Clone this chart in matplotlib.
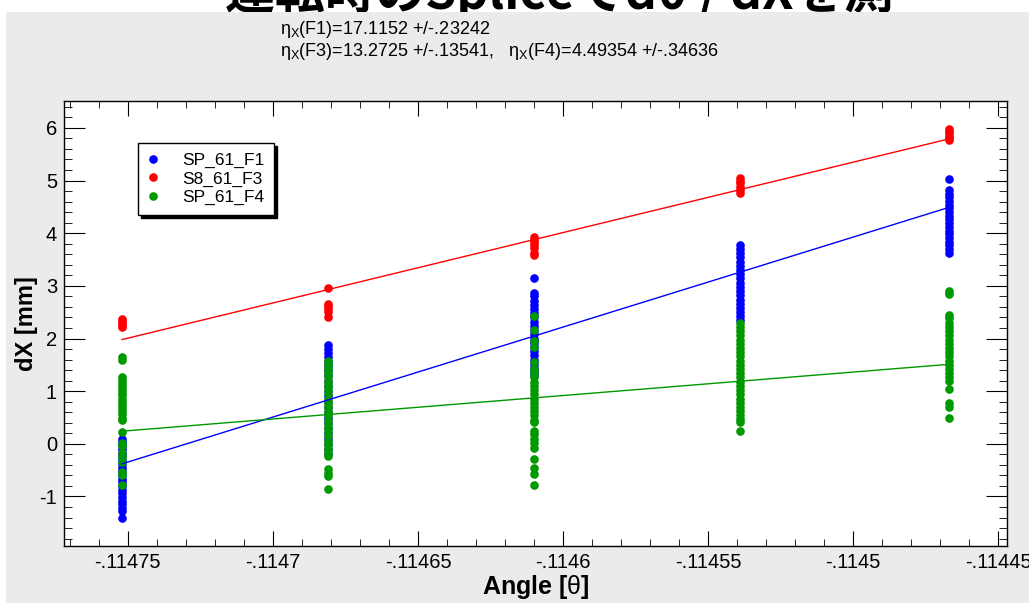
import numpy as np
import matplotlib.pyplot as plt
from matplotlib.patches import Rectangle
from matplotlib.lines import Line2D
from matplotlib.ticker import MultipleLocator, FuncFormatter

# beam angle of each run (rad)
angles = [-0.114752, -0.114681, -0.114610, -0.114539, -0.114467]

# dX [mm] per run, one list per angle
sp61_f1 = [
    [0.10, 0.04, -0.03, -0.10, -0.17, -0.24, -0.31, -0.38, -0.45, -0.52, -0.59,
     -0.66, -0.73, -0.80, -0.87, -0.94, -1.01, -1.08, -1.15, -1.22, -1.28, -1.41],
    [1.87, 1.80, 1.72, 1.64, 1.56, 1.48, 1.40, 1.30, 1.20, 1.10, 1.00, 0.90,
     0.80, 0.70, 0.60, 0.50, 0.40, 0.30, 0.20, 0.10, 0.00, -0.10, -0.20],
    [3.15, 2.87, 2.80, 2.72, 2.64, 2.56, 2.48, 2.40, 2.32, 2.24, 2.16, 2.08,
     2.00, 1.92, 1.84, 1.76, 1.68, 1.60, 1.52, 1.44, 1.36, 1.30],
    [3.77, 3.70, 3.62, 3.54, 3.46, 3.38, 3.30, 3.22, 3.14, 3.06, 2.98, 2.90,
     2.82, 2.74, 2.66, 2.58, 2.50, 2.42, 2.35],
    [5.02, 4.82, 4.75, 4.68, 4.61, 4.54, 4.47, 4.40, 4.33, 4.26, 4.19, 4.12,
     4.05, 3.98, 3.91, 3.84, 3.77, 3.70, 3.62],
]
s8_61_f3 = [
    [2.37, 2.33, 2.29, 2.25, 2.22],
    [2.95, 2.66, 2.62, 2.56, 2.50, 2.41],
    [3.92, 3.88, 3.83, 3.78, 3.72, 3.62, 3.58],
    [5.05, 5.00, 4.95, 4.88, 4.82, 4.77],
    [5.98, 5.94, 5.90, 5.85, 5.80, 5.77],
]
sp61_f4 = [
    [1.65, 1.60, 1.27, 1.22, 1.16, 1.10, 1.04, 0.98, 0.92, 0.86, 0.80, 0.74,
     0.68, 0.62, 0.56, 0.50, 0.46, 0.22, 0.02, -0.05, -0.18, -0.25, -0.34,
     -0.53, -0.60, -0.79],
    [1.58, 1.50, 1.42, 1.34, 1.26, 1.18, 1.10, 1.02, 0.94, 0.86, 0.78, 0.70,
     0.62, 0.54, 0.46, 0.38, 0.30, 0.22, 0.14, 0.06, -0.02, -0.10, -0.18,
     -0.24, -0.47, -0.55, -0.62, -0.85],
    [2.42, 2.17, 1.95, 1.83, 1.55, 1.42, 1.34, 1.26, 1.18, 1.10, 1.02, 0.94,
     0.86, 0.78, 0.70, 0.62, 0.54, 0.46, 0.42, 0.25, 0.18, 0.10, 0.02, -0.08,
     -0.28, -0.45, -0.57, -0.79],
    [2.30, 2.22, 2.14, 2.06, 1.98, 1.90, 1.82, 1.74, 1.66, 1.58, 1.50, 1.42,
     1.34, 1.26, 1.18, 1.10, 1.02, 0.94, 0.86, 0.78, 0.70, 0.62, 0.55, 0.48,
     0.42, 0.24],
    [2.90, 2.85, 2.45, 2.38, 2.30, 2.22, 2.14, 2.06, 1.98, 1.90, 1.82, 1.74,
     1.66, 1.58, 1.50, 1.42, 1.34, 1.26, 1.20, 1.05, 0.78, 0.70, 0.50],
]

# linear fits: value at first and last angle
fit_f1 = [-0.38, 4.49]
fit_f3 = [1.98, 5.79]
fit_f4 = [0.24, 1.51]

labels = ['SP_61_F1', 'S8_61_F3', 'SP_61_F4']
colors = ['#0000ff', '#ff0000', '#009900']

fit_text1 = r'$\eta_{X}$(F1)=17.1152 +/-.23242'
fit_text2 = r'$\eta_{X}$(F3)=13.2725 +/-.13541,   $\eta_{X}$(F4)=4.49354 +/-.34636'

plt.rcParams['font.family'] = ['Liberation Sans', 'DejaVu Sans']
plt.rcParams['mathtext.fontset'] = 'custom'
plt.rcParams['mathtext.rm'] = 'Liberation Sans'
plt.rcParams['mathtext.it'] = 'Liberation Sans'

fig = plt.figure(figsize=(10.29, 6.03), dpi=100)
fig.patch.set_facecolor('white')
fig.patches.append(Rectangle((6 / 1029, 0), 1, 1 - 12 / 603, transform=fig.transFigure,
                             facecolor='#ebebeb', edgecolor='none', zorder=-1))
# slide title, cut off by the top of the screenshot
fig.text(225 / 1029, 1 - 9 / 603, '運転時のSpliceでdθ / dXを測', fontsize=36,
         fontweight='bold', family=['Noto Sans CJK JP', 'DejaVu Sans'],
         va='baseline', ha='left', zorder=-2)

fig.text(280 / 1029, 1 - 30 / 603, fit_text1, fontsize=13, va='center')
fig.text(280 / 1029, 1 - 51 / 603, fit_text2, fontsize=13, va='center')

ax = fig.add_axes([64 / 1029, 1 - 546 / 603, 943 / 1029, 445 / 603])
ax.set_facecolor('white')

series = [sp61_f1, s8_61_f3, sp61_f4]
fits = [fit_f1, fit_f3, fit_f4]
for vals, fit, c in zip(series, fits, colors):
    for a, col in zip(angles, vals):
        ax.plot([a] * len(col), col, 'o', color=c, ms=6.2, mew=0, zorder=3)
    ax.plot([angles[0], angles[-1]], fit, '-', color=c, lw=1, zorder=4)

ax.set_xlim(-0.114772, -0.114447)
ax.set_ylim(-1.94, 6.51)

ax.xaxis.set_major_locator(MultipleLocator(0.00005))
ax.xaxis.set_minor_locator(MultipleLocator(0.00001))
ax.yaxis.set_major_locator(MultipleLocator(1))
ax.yaxis.set_minor_locator(MultipleLocator(0.2))
ax.xaxis.set_major_formatter(FuncFormatter(lambda v, p: ('%.5f' % v).rstrip('0').replace('-0.', '-.')))
ax.yaxis.set_major_formatter(FuncFormatter(lambda v, p: '%d' % round(v)))

ax.tick_params(which='both', direction='in', top=True, right=True, colors='black')
ax.tick_params(axis='x', which='major', length=11, pad=5, labelsize=14.5)
ax.tick_params(axis='x', which='minor', length=5)
ax.tick_params(axis='y', which='major', length=15, pad=5, labelsize=14.5)
ax.tick_params(axis='y', which='minor', length=6)
for s in ax.spines.values():
    s.set_linewidth(1)

ax.set_xlabel('Angle [$\\theta$]', fontsize=18, fontweight='bold')
ax.set_ylabel('dX [mm]', fontsize=17, fontweight='bold')
ax.xaxis.set_label_coords(0.5, -0.06)
ax.yaxis.set_label_coords(-0.028, 0.5)

handles = [Line2D([], [], marker='o', ls='none', color=c, ms=6.2, mew=0) for c in colors]
leg = ax.legend(handles, labels, loc='upper left', bbox_to_anchor=(0.0785, 0.9056),
                fontsize=12.5, frameon=True, fancybox=False, edgecolor='black',
                borderpad=0.55, labelspacing=0.2, handletextpad=1.4, handlelength=0.6,
                borderaxespad=0, shadow={'color': 'black', 'alpha': 1, 'shade': 0})
leg.get_frame().set_linewidth(1)

fig.savefig('out.png', dpi=100)
